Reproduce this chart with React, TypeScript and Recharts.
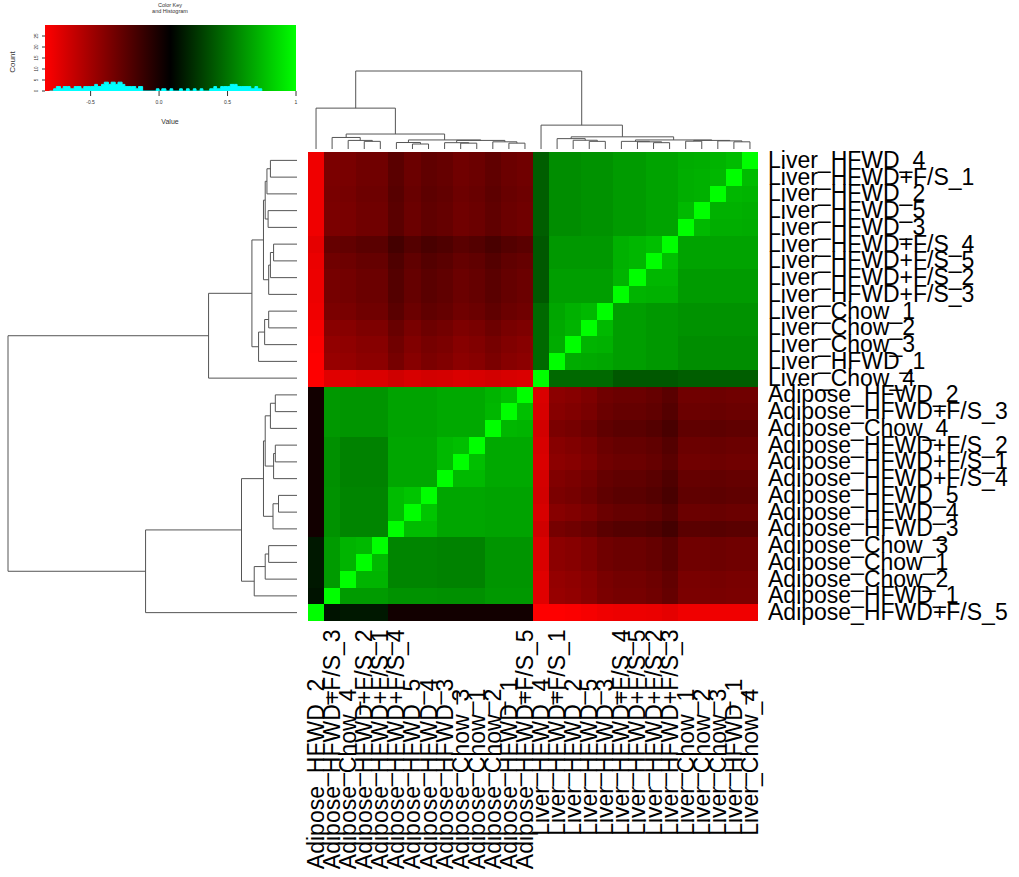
import React from 'react';
import { ScatterChart, Scatter, XAxis, YAxis, ReferenceArea, ComposedChart, Area } from 'recharts';

const FONT = '"Liberation Sans", Arial, Helvetica, sans-serif';

// ---------- labels ----------
const rowLabels = [
  'Liver_HFWD_4', 'Liver_HFWD+F/S_1', 'Liver_HFWD_2', 'Liver_HFWD_5', 'Liver_HFWD_3',
  'Liver_HFWD+F/S_4', 'Liver_HFWD+F/S_5', 'Liver_HFWD+F/S_2', 'Liver_HFWD+F/S_3',
  'Liver_Chow_1', 'Liver_Chow_2', 'Liver_Chow_3', 'Liver_HFWD_1', 'Liver_Chow_4',
  'Adipose_HFWD_2', 'Adipose_HFWD+F/S_3', 'Adipose_Chow_4', 'Adipose_HFWD+F/S_2',
  'Adipose_HFWD+F/S_1', 'Adipose_HFWD+F/S_4', 'Adipose_HFWD_5', 'Adipose_HFWD_4',
  'Adipose_HFWD_3', 'Adipose_Chow_3', 'Adipose_Chow_1', 'Adipose_Chow_2', 'Adipose_HFWD_1',
  'Adipose_HFWD+F/S_5',
];
const colLabels = [
  'Adipose_HFWD_2', 'Adipose_HFWD+F/S_3', 'Adipose_Chow_4', 'Adipose_HFWD+F/S_2',
  'Adipose_HFWD+F/S_1', 'Adipose_HFWD+F/S_4', 'Adipose_HFWD_5', 'Adipose_HFWD_4',
  'Adipose_HFWD_3', 'Adipose_Chow_3', 'Adipose_Chow_1', 'Adipose_Chow_2', 'Adipose_HFWD_1',
  'Adipose_HFWD+F/S_5',
  'Liver_HFWD_4', 'Liver_HFWD+F/S_1', 'Liver_HFWD_2', 'Liver_HFWD_5', 'Liver_HFWD_3',
  'Liver_HFWD+F/S_4', 'Liver_HFWD+F/S_5', 'Liver_HFWD+F/S_2', 'Liver_HFWD+F/S_3',
  'Liver_Chow_1', 'Liver_Chow_2', 'Liver_Chow_3', 'Liver_HFWD_1', 'Liver_Chow_4',
];

// ---------- correlation values, displayed rows top->bottom, columns left->right ----------
const heatValues: number[][] = [
  [-0.78, -0.36, -0.35, -0.32, -0.32, -0.24, -0.30, -0.26, -0.28, -0.32, -0.30, -0.26, -0.30, -0.32, 0.42, 0.59, 0.59, 0.61, 0.61, 0.64, 0.64, 0.67, 0.67, 0.70, 0.71, 0.73, 0.76, 1],
  [-0.78, -0.36, -0.35, -0.32, -0.32, -0.24, -0.30, -0.26, -0.28, -0.32, -0.30, -0.26, -0.30, -0.32, 0.42, 0.59, 0.59, 0.61, 0.61, 0.64, 0.64, 0.67, 0.67, 0.71, 0.72, 0.74, 1, 0.76],
  [-0.78, -0.35, -0.34, -0.31, -0.31, -0.23, -0.29, -0.25, -0.27, -0.31, -0.29, -0.25, -0.29, -0.31, 0.42, 0.59, 0.59, 0.61, 0.61, 0.64, 0.64, 0.67, 0.67, 0.71, 0.72, 1, 0.74, 0.73],
  [-0.78, -0.36, -0.35, -0.32, -0.32, -0.24, -0.30, -0.26, -0.28, -0.32, -0.30, -0.26, -0.30, -0.32, 0.42, 0.59, 0.59, 0.61, 0.61, 0.64, 0.64, 0.67, 0.67, 0.75, 1, 0.72, 0.72, 0.71],
  [-0.78, -0.36, -0.35, -0.32, -0.32, -0.24, -0.30, -0.26, -0.28, -0.32, -0.30, -0.26, -0.30, -0.32, 0.42, 0.59, 0.59, 0.61, 0.61, 0.64, 0.64, 0.67, 0.67, 1, 0.75, 0.71, 0.71, 0.70],
  [-0.74, -0.28, -0.27, -0.24, -0.24, -0.16, -0.22, -0.18, -0.20, -0.24, -0.22, -0.18, -0.22, -0.24, 0.40, 0.63, 0.63, 0.63, 0.63, 0.72, 0.74, 0.77, 1, 0.67, 0.67, 0.67, 0.67, 0.67],
  [-0.76, -0.32, -0.31, -0.28, -0.28, -0.20, -0.26, -0.22, -0.24, -0.28, -0.26, -0.22, -0.26, -0.28, 0.40, 0.63, 0.63, 0.63, 0.63, 0.72, 0.74, 1, 0.77, 0.67, 0.67, 0.67, 0.67, 0.67],
  [-0.77, -0.34, -0.33, -0.30, -0.30, -0.22, -0.28, -0.24, -0.26, -0.30, -0.28, -0.24, -0.28, -0.30, 0.40, 0.65, 0.65, 0.65, 0.65, 0.73, 1, 0.74, 0.74, 0.64, 0.64, 0.64, 0.64, 0.64],
  [-0.77, -0.34, -0.33, -0.30, -0.30, -0.22, -0.28, -0.24, -0.26, -0.30, -0.28, -0.24, -0.28, -0.30, 0.40, 0.65, 0.65, 0.65, 0.65, 1, 0.73, 0.72, 0.72, 0.64, 0.64, 0.64, 0.64, 0.64],
  [-0.78, -0.36, -0.35, -0.32, -0.32, -0.24, -0.30, -0.26, -0.28, -0.32, -0.30, -0.26, -0.30, -0.32, 0.46, 0.68, 0.72, 0.75, 1, 0.65, 0.65, 0.63, 0.63, 0.61, 0.61, 0.61, 0.61, 0.61],
  [-0.80, -0.41, -0.40, -0.37, -0.37, -0.29, -0.35, -0.31, -0.33, -0.37, -0.35, -0.31, -0.35, -0.37, 0.46, 0.69, 0.73, 1, 0.75, 0.65, 0.65, 0.63, 0.63, 0.61, 0.61, 0.61, 0.61, 0.61],
  [-0.82, -0.44, -0.43, -0.40, -0.40, -0.32, -0.38, -0.34, -0.36, -0.40, -0.38, -0.34, -0.38, -0.40, 0.46, 0.70, 1, 0.73, 0.72, 0.65, 0.65, 0.63, 0.63, 0.59, 0.59, 0.59, 0.59, 0.59],
  [-0.83, -0.46, -0.45, -0.42, -0.42, -0.34, -0.40, -0.36, -0.38, -0.42, -0.40, -0.36, -0.40, -0.42, 0.46, 1, 0.70, 0.69, 0.68, 0.65, 0.65, 0.63, 0.63, 0.59, 0.59, 0.59, 0.59, 0.59],
  [-0.83, -0.72, -0.72, -0.70, -0.70, -0.66, -0.69, -0.67, -0.68, -0.70, -0.69, -0.67, -0.69, -0.70, 1, 0.46, 0.46, 0.46, 0.46, 0.40, 0.40, 0.40, 0.40, 0.42, 0.42, 0.42, 0.42, 0.42],
  [0.02, 0.63, 0.62, 0.62, 0.62, 0.67, 0.67, 0.67, 0.69, 0.69, 0.69, 0.73, 0.77, 1, -0.70, -0.42, -0.40, -0.37, -0.32, -0.30, -0.30, -0.28, -0.24, -0.32, -0.32, -0.31, -0.32, -0.32],
  [0.02, 0.63, 0.62, 0.62, 0.62, 0.67, 0.67, 0.67, 0.69, 0.69, 0.69, 0.74, 1, 0.77, -0.69, -0.40, -0.38, -0.35, -0.30, -0.28, -0.28, -0.26, -0.22, -0.30, -0.30, -0.29, -0.30, -0.30],
  [0.02, 0.63, 0.62, 0.62, 0.62, 0.67, 0.67, 0.67, 0.69, 0.69, 0.69, 1, 0.74, 0.73, -0.67, -0.36, -0.34, -0.31, -0.26, -0.24, -0.24, -0.22, -0.18, -0.26, -0.26, -0.25, -0.26, -0.26],
  [0.02, 0.60, 0.55, 0.55, 0.55, 0.68, 0.68, 0.68, 0.75, 0.77, 1, 0.69, 0.69, 0.69, -0.69, -0.40, -0.38, -0.35, -0.30, -0.28, -0.28, -0.26, -0.22, -0.30, -0.30, -0.29, -0.30, -0.30],
  [0.02, 0.60, 0.55, 0.55, 0.55, 0.68, 0.68, 0.68, 0.75, 1, 0.77, 0.69, 0.69, 0.69, -0.70, -0.42, -0.40, -0.37, -0.32, -0.30, -0.30, -0.28, -0.24, -0.32, -0.32, -0.31, -0.32, -0.32],
  [0.02, 0.60, 0.55, 0.55, 0.55, 0.68, 0.68, 0.68, 1, 0.75, 0.75, 0.69, 0.69, 0.69, -0.68, -0.38, -0.36, -0.33, -0.28, -0.26, -0.26, -0.24, -0.20, -0.28, -0.28, -0.27, -0.28, -0.28],
  [0.02, 0.61, 0.56, 0.56, 0.56, 0.76, 0.79, 1, 0.68, 0.68, 0.68, 0.67, 0.67, 0.67, -0.67, -0.36, -0.34, -0.31, -0.26, -0.24, -0.24, -0.22, -0.18, -0.26, -0.26, -0.25, -0.26, -0.26],
  [0.02, 0.61, 0.56, 0.56, 0.56, 0.76, 1, 0.79, 0.68, 0.68, 0.68, 0.67, 0.67, 0.67, -0.69, -0.40, -0.38, -0.35, -0.30, -0.28, -0.28, -0.26, -0.22, -0.30, -0.30, -0.29, -0.30, -0.30],
  [0.02, 0.61, 0.56, 0.56, 0.56, 1, 0.76, 0.76, 0.68, 0.68, 0.68, 0.67, 0.67, 0.67, -0.66, -0.34, -0.32, -0.29, -0.24, -0.22, -0.22, -0.20, -0.16, -0.24, -0.24, -0.23, -0.24, -0.24],
  [0.17, 0.64, 0.73, 0.75, 1, 0.56, 0.56, 0.56, 0.55, 0.55, 0.55, 0.62, 0.62, 0.62, -0.70, -0.42, -0.40, -0.37, -0.32, -0.30, -0.30, -0.28, -0.24, -0.32, -0.32, -0.31, -0.32, -0.32],
  [0.17, 0.64, 0.73, 1, 0.75, 0.56, 0.56, 0.56, 0.55, 0.55, 0.55, 0.62, 0.62, 0.62, -0.70, -0.42, -0.40, -0.37, -0.32, -0.30, -0.30, -0.28, -0.24, -0.32, -0.32, -0.31, -0.32, -0.32],
  [0.17, 0.64, 1, 0.73, 0.73, 0.56, 0.56, 0.56, 0.55, 0.55, 0.55, 0.62, 0.62, 0.62, -0.72, -0.45, -0.43, -0.40, -0.35, -0.33, -0.33, -0.31, -0.27, -0.35, -0.35, -0.34, -0.35, -0.35],
  [0.15, 1, 0.64, 0.64, 0.64, 0.61, 0.61, 0.61, 0.60, 0.60, 0.60, 0.63, 0.63, 0.63, -0.72, -0.46, -0.44, -0.41, -0.36, -0.34, -0.34, -0.32, -0.28, -0.36, -0.36, -0.35, -0.36, -0.36],
  [1, 0.15, 0.17, 0.17, 0.17, 0.02, 0.02, 0.02, 0.02, 0.02, 0.02, 0.02, 0.02, 0.02, -0.83, -0.83, -0.82, -0.80, -0.78, -0.77, -0.77, -0.76, -0.74, -0.78, -0.78, -0.78, -0.78, -0.78],
];

// ---------- dendrogram merges (leaf positions in row-index units, heights relative to root) ----------
const mergeLeftPos = [0.5, 1.0, 3.5, 1.75, 5.5, 6.0, 6.75, 2.875, 9.5, 10.0, 10.75, 5.25, 8.4375, 14.5, 15.0, 17.5, 18.0, 15.75, 20.5, 21.0, 17.25, 23.5, 24.0, 24.75, 19.5, 22.5625, 10.96875];
const mergeLeftHeight = [0, 0.092, 0, 0.104, 0, 0.081, 0.092, 0.110, 0, 0.098, 0.112, 0.116, 0.156, 0, 0.075, 0, 0.075, 0.092, 0, 0.064, 0.110, 0, 0.098, 0.110, 0.116, 0.192, 0.306];
const mergeRightPos = [1.5, 2.5, 4.5, 4.0, 6.5, 7.5, 8.5, 7.625, 10.5, 11.5, 12.5, 11.625, 13.5, 15.5, 16.5, 18.5, 19.5, 18.75, 21.5, 22.5, 21.75, 24.5, 25.5, 26.5, 25.625, 27.5, 25.03125];
const mergeRightHeight = [0, 0, 0, 0.100, 0, 0, 0, 0.098, 0, 0, 0, 0.133, 0, 0, 0, 0, 0, 0.081, 0, 0, 0.083, 0, 0, 0, 0.148, 0, 0.524];
const mergeHeight = [0.092, 0.104, 0.100, 0.110, 0.081, 0.092, 0.098, 0.116, 0.098, 0.112, 0.133, 0.156, 0.306, 0.075, 0.092, 0.075, 0.081, 0.110, 0.064, 0.083, 0.116, 0.098, 0.110, 0.148, 0.192, 0.524, 1.0];

// ---------- color key histogram ----------
const histBinStart = [-0.80, -0.77, -0.75, -0.72, -0.70, -0.67, -0.65, -0.62, -0.60, -0.57, -0.55, -0.52, -0.50, -0.47, -0.45, -0.42, -0.40, -0.37, -0.35, -0.32, -0.30, -0.27, -0.25, -0.22, -0.20, -0.17, -0.15, -0.12, -0.02, 0.0, 0.02, 0.05, 0.08, 0.10, 0.15, 0.17, 0.20, 0.22, 0.25, 0.27, 0.30, 0.32, 0.37, 0.40, 0.42, 0.45, 0.47, 0.50, 0.52, 0.55, 0.57, 0.60, 0.62, 0.65, 0.67, 0.70, 0.72, 0.75];
const histCount = [0, 1, 2, 1, 2, 2, 1, 2, 2, 1, 2, 2, 2, 3, 2, 3, 4, 3, 4, 3, 4, 3, 2, 2, 2, 1, 2, 0, 1, 0, 1, 0, 1, 0, 1, 0, 1, 0, 1, 0, 1, 0, 1, 2, 1, 2, 2, 2, 3, 3, 2, 2, 2, 2, 1, 2, 1, 0];
const keyValueTicks = [-0.5, 0, 0.5, 1];
const keyValueLabels = ['-0.5', '0.0', '0.5', '1'];
const keyCountTicks = [0, 5, 10, 15, 20, 25];
const KEY_MIN = -0.833;
const KEY_MAX = 1;

// ---------- derived structures ----------
const N = rowLabels.length;
const rowTicks = rowLabels.map((_, i) => i + 0.5);
const colTicks = colLabels.map((_, i) => i + 0.5);

function cellColor(v: number) {
  const t = Math.max(0, Math.min(1, (v - KEY_MIN) / (KEY_MAX - KEY_MIN)));
  if (t < 0.5) {
    const r = Math.round((1 - 2 * t) * 255);
    return `rgb(${r},0,0)`;
  }
  const g = Math.round((2 * t - 1) * 255);
  return `rgb(0,${g},0)`;
}

const cells = heatValues.flatMap((row, r) => row.map((v, c) => ({ x: c + 0.5, y: r + 0.5, r, c, v })));

const topLinks = mergeHeight.map((h, i) => [
  { x: mergeLeftPos[i], y: mergeLeftHeight[i] },
  { x: mergeLeftPos[i], y: h },
  { x: mergeRightPos[i], y: h },
  { x: mergeRightPos[i], y: mergeRightHeight[i] },
]);
const leftLinks = mergeHeight.map((h, i) => [
  { x: mergeLeftHeight[i], y: mergeLeftPos[i] },
  { x: h, y: mergeLeftPos[i] },
  { x: h, y: mergeRightPos[i] },
  { x: mergeRightHeight[i], y: mergeRightPos[i] },
]);

const histData = histBinStart.map((x, i) => ({ x, count: histCount[i] }));

const DENDRO_STROKE = '#555';
const LABEL_SIZE = 23;

function RowTick(props: any) {
  const { x, y, payload } = props;
  const label = rowLabels[Math.floor(payload.value)];
  return (
    <text x={x} y={y + 7.5} textAnchor="start" fontSize={LABEL_SIZE} fontFamily={FONT} fill="#000">
      {label}
    </text>
  );
}

function ColTick(props: any) {
  const { x, y, payload } = props;
  const label = colLabels[Math.floor(payload.value)];
  const k = label.indexOf('_');
  const prefix = label.slice(0, k);
  const rest = label.slice(k);
  const bx = x + 8;
  const by = y + 165;
  return (
    <g transform={`translate(${bx},${by}) rotate(-90)`}>
      <text x={0} y={0} textAnchor="end" fontSize={LABEL_SIZE} fontFamily={FONT} fill="#000">{prefix}</text>
      <text x={0} y={0} textAnchor="start" fontSize={LABEL_SIZE} fontFamily={FONT} fill="#000">{rest}</text>
    </g>
  );
}

function KeyCountTick(props: any) {
  const { x, y, payload } = props;
  return (
    <text x={x} y={y} textAnchor="middle" fontSize={4.5} fontFamily={FONT} fill="#333" transform={`rotate(-90,${x},${y})`}>
      {payload.value}
    </text>
  );
}

function Heatmap() {
  return (
    <div style={{ position: 'absolute', left: 250, top: 120 }}>
      <ScatterChart width={769} height={757} margin={{ top: 32, right: 0, bottom: 0, left: 58 }}>
        <XAxis
          type="number"
          dataKey="x"
          domain={[0, N]}
          ticks={colTicks}
          interval={0}
          height={256}
          tickSize={0}
          tickMargin={0}
          tickLine={false}
          axisLine={false}
          allowDataOverflow
          tick={(p: any) => <ColTick {...p} />}
        />
        <YAxis
          type="number"
          dataKey="y"
          domain={[0, N]}
          reversed
          orientation="right"
          width={261}
          ticks={rowTicks}
          interval={0}
          tickSize={0}
          tickMargin={10}
          tickLine={false}
          axisLine={false}
          allowDataOverflow
          tick={(p: any) => <RowTick {...p} />}
        />
        {cells.map((cell) => (
          <ReferenceArea
            key={`c-${cell.r}-${cell.c}`}
            x1={cell.c}
            x2={cell.c + 1}
            y1={cell.r}
            y2={cell.r + 1}
            fill={cellColor(cell.v)}
            fillOpacity={1}
            stroke="none"
            shapeRendering="crispEdges"
            ifOverflow="visible"
          />
        ))}
        <Scatter data={cells} isAnimationActive={false} shape={() => <g />} />
      </ScatterChart>
    </div>
  );
}

function TopDendrogram() {
  return (
    <div style={{ position: 'absolute', left: 308, top: 60 }}>
      <ScatterChart width={450} height={92} margin={{ top: 11, right: 0, bottom: 3, left: 0 }}>
        <XAxis type="number" dataKey="x" domain={[0, N]} reversed hide />
        <YAxis type="number" dataKey="y" domain={[0, 1]} hide />
        {topLinks.map((pts, i) => (
          <Scatter
            key={`t-${i}`}
            data={pts}
            line={{ stroke: DENDRO_STROKE, strokeWidth: 1 }}
            shape={() => <g />}
            isAnimationActive={false}
          />
        ))}
      </ScatterChart>
    </div>
  );
}

function LeftDendrogram() {
  return (
    <div style={{ position: 'absolute', left: 0, top: 152 }}>
      <ScatterChart width={308} height={469} margin={{ top: 0, right: 11, bottom: 0, left: 8 }}>
        <XAxis type="number" dataKey="x" domain={[0, 1]} reversed hide />
        <YAxis type="number" dataKey="y" domain={[0, N]} reversed hide />
        {leftLinks.map((pts, i) => (
          <Scatter
            key={`l-${i}`}
            data={pts}
            line={{ stroke: DENDRO_STROKE, strokeWidth: 1 }}
            shape={() => <g />}
            isAnimationActive={false}
          />
        ))}
      </ScatterChart>
    </div>
  );
}

function ColorKey() {
  return (
    <div style={{ position: 'absolute', left: 0, top: 0, width: 300, height: 130 }}>
      <svg width={300} height={130} style={{ position: 'absolute', left: 0, top: 0 }}>
        <text x={170} y={7} textAnchor="middle" fontSize={5.5} fontFamily={FONT} fill="#333">Color Key</text>
        <text x={170} y={13} textAnchor="middle" fontSize={5.5} fontFamily={FONT} fill="#333">and Histogram</text>
        <text x={170} y={124} textAnchor="middle" fontSize={7} fontFamily={FONT} fill="#333">Value</text>
        <text x={15} y={62} textAnchor="middle" fontSize={8} fontFamily={FONT} fill="#333" transform="rotate(-90,15,62)">Count</text>
      </svg>
      <div style={{ position: 'absolute', left: 0, top: 0 }}>
        <ComposedChart width={300} height={130} data={histData} margin={{ top: 25, right: 4, bottom: 19, left: 25 }}>
          <defs>
            <linearGradient id="keyGradient" x1="0" y1="0" x2="1" y2="0">
              <stop offset="0%" stopColor="#FF0000" />
              <stop offset="50%" stopColor="#000000" />
              <stop offset="100%" stopColor="#00FF00" />
            </linearGradient>
          </defs>
          <XAxis
            type="number"
            dataKey="x"
            domain={[KEY_MIN, KEY_MAX]}
            ticks={keyValueTicks}
            interval={0}
            height={20}
            tickSize={5}
            tickMargin={4}
            axisLine={false}
            tickLine={{ stroke: '#333' }}
            tickFormatter={(v: number) => keyValueLabels[keyValueTicks.indexOf(v)] ?? String(v)}
            tick={{ fontSize: 5, fill: '#333', fontFamily: FONT }}
            allowDataOverflow
          />
          <YAxis
            type="number"
            domain={[0, 30]}
            ticks={keyCountTicks}
            interval={0}
            width={20}
            tickSize={3}
            tickMargin={4}
            axisLine={false}
            tickLine={{ stroke: '#333' }}
            tick={(p: any) => <KeyCountTick {...p} />}
            allowDataOverflow
          />
          <ReferenceArea
            x1={KEY_MIN}
            x2={KEY_MAX}
            y1={0}
            y2={30}
            fill="url(#keyGradient)"
            fillOpacity={1}
            stroke="none"
            ifOverflow="visible"
          />
          <Area
            type="stepAfter"
            dataKey="count"
            stroke="#00FFFF"
            strokeWidth={1}
            fill="#00FFFF"
            fillOpacity={1}
            isAnimationActive={false}
            dot={false}
            activeDot={false}
          />
        </ComposedChart>
      </div>
    </div>
  );
}

export default function App() {
  return (
    <div style={{ position: 'absolute', left: 0, top: 0, width: 1019, height: 877, background: '#fff', overflow: 'hidden' }}>
      <ColorKey />
      <TopDendrogram />
      <LeftDendrogram />
      <Heatmap />
    </div>
  );
}
